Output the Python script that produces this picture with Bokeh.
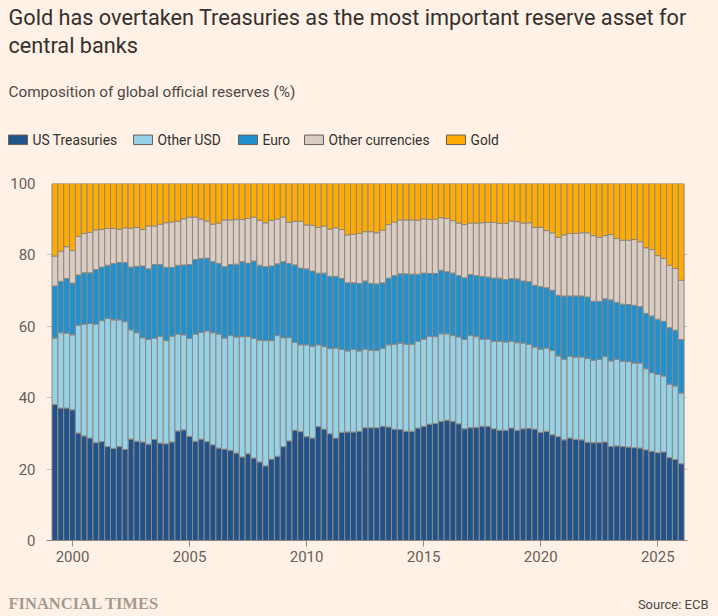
from bokeh.plotting import figure
from bokeh.models import ColumnDataSource, Label, Range1d
from bokeh.layouts import column
from bokeh.embed import file_html
from bokeh.resources import INLINE

# quarterly ECB data, 1999Q1 .. 2025Q4
years = list(range(1999, 2026))
quarters = [f"{y}Q{q}" for y in years for q in range(1, 5)]

series = ["US Treasuries", "Other USD", "Euro", "Other currencies", "Gold"]

treasuries = [
    38.1, 37.1, 37.1, 36.6, 30.1, 29.3, 28.7, 27.4, 27.7, 26.3, 25.8, 26.3,
    25.5, 28.4, 27.8, 27.6, 27.0, 28.3, 27.3, 27.1, 27.6, 30.7, 31.0, 29.2,
    27.8, 28.4, 27.7, 26.8, 25.9, 25.6, 25.3, 24.5, 23.4, 24.3, 23.1, 22.0,
    20.9, 22.8, 23.6, 26.3, 27.9, 30.9, 30.5, 29.1, 28.7, 31.9, 31.2, 29.9,
    28.7, 30.3, 30.4, 30.4, 30.6, 31.6, 31.6, 31.6, 32.0, 31.8, 31.2, 31.1,
    30.6, 30.6, 31.5, 32.0, 32.6, 32.8, 33.4, 33.7, 33.4, 32.7, 31.3, 31.6,
    31.7, 32.0, 32.0, 31.3, 30.9, 30.9, 31.5, 30.9, 31.3, 31.4, 31.2, 30.3,
    30.6, 29.6, 29.1, 28.2, 28.7, 28.3, 28.2, 27.5, 27.4, 27.4, 27.6, 26.4,
    26.5, 26.3, 26.2, 26.0, 25.9, 25.4, 25.0, 24.6, 24.8, 23.2, 22.7, 21.5,
]
other_usd = [
    18.6, 21.1, 21.0, 21.0, 30.2, 31.3, 32.1, 33.2, 33.9, 35.9, 36.0, 35.5,
    35.8, 30.6, 30.4, 29.2, 29.3, 28.4, 29.9, 28.9, 29.6, 27.1, 26.6, 27.4,
    30.0, 29.9, 31.0, 31.4, 31.9, 31.1, 32.1, 32.5, 33.7, 32.8, 33.5, 34.1,
    35.1, 33.2, 33.8, 30.5, 28.9, 24.6, 24.3, 25.7, 25.7, 22.9, 23.1, 23.9,
    25.2, 23.2, 22.7, 23.1, 22.5, 22.0, 21.7, 21.6, 21.8, 23.0, 23.8, 24.2,
    24.4, 24.4, 24.3, 24.4, 24.6, 24.3, 24.5, 24.2, 24.0, 24.3, 25.0, 25.8,
    25.4, 24.4, 24.4, 24.5, 24.9, 24.7, 24.3, 24.5, 24.0, 23.5, 23.0, 23.3,
    23.3, 23.6, 22.6, 22.6, 22.9, 23.1, 23.2, 23.5, 23.1, 23.3, 23.9, 23.9,
    24.3, 23.9, 23.9, 23.7, 23.8, 22.7, 22.0, 21.9, 21.3, 20.6, 20.6, 19.8,
]
euro = [
    14.6, 14.4, 15.3, 14.5, 14.1, 14.4, 14.2, 15.3, 15.0, 14.9, 15.8, 16.1,
    16.6, 17.6, 18.6, 20.1, 19.8, 20.6, 20.1, 20.5, 19.3, 19.3, 19.6, 20.7,
    20.9, 20.7, 20.4, 19.9, 19.8, 20.0, 19.9, 20.4, 21.0, 20.6, 21.7, 21.0,
    20.7, 20.9, 20.1, 21.3, 20.8, 21.7, 21.5, 21.3, 21.1, 20.1, 20.6, 20.2,
    20.1, 19.9, 19.1, 18.7, 18.9, 19.1, 18.7, 18.7, 18.4, 18.7, 19.2, 19.4,
    19.7, 19.6, 18.8, 18.5, 17.6, 17.7, 17.8, 17.4, 17.5, 17.2, 17.3, 17.1,
    17.1, 17.6, 17.4, 17.7, 17.7, 17.5, 17.6, 17.9, 17.4, 17.6, 17.3, 17.5,
    16.9, 16.9, 17.0, 17.7, 16.9, 17.1, 17.1, 17.2, 16.5, 16.3, 16.2, 17.1,
    15.9, 16.0, 16.0, 16.2, 15.8, 15.5, 15.9, 15.5, 15.3, 15.8, 15.6, 15.0,
]
other_ccy = [
    8.4, 8.4, 8.9, 9.1, 10.8, 11.0, 11.3, 11.1, 10.5, 10.3, 9.8, 9.3,
    9.7, 10.9, 10.9, 10.2, 12.0, 10.8, 11.3, 12.5, 12.7, 12.3, 12.9, 13.3,
    11.9, 11.0, 10.4, 10.5, 11.3, 13.1, 12.5, 12.5, 11.8, 12.5, 12.3, 12.6,
    12.3, 12.8, 12.5, 12.5, 11.5, 12.2, 13.1, 12.3, 12.8, 12.8, 13.2, 13.2,
    13.6, 13.7, 13.4, 13.6, 14.0, 13.8, 14.5, 14.3, 14.7, 15.0, 15.0, 15.1,
    15.1, 15.2, 15.1, 15.2, 15.1, 15.2, 14.7, 14.9, 14.7, 14.7, 14.9, 14.4,
    14.7, 15.0, 15.3, 15.6, 15.3, 15.7, 16.1, 16.0, 16.2, 16.5, 16.2, 16.6,
    16.0, 16.1, 16.2, 17.1, 17.5, 17.5, 17.7, 18.0, 18.4, 17.9, 17.7, 18.3,
    17.9, 17.9, 18.0, 18.4, 18.2, 18.4, 18.6, 17.8, 17.6, 17.5, 17.3, 16.6,
]
gold = [
    20.3, 19.0, 17.7, 18.8, 14.8, 14.0, 13.7, 13.0, 12.9, 12.6, 12.6, 12.8,
    12.4, 12.5, 12.3, 12.9, 11.9, 11.9, 11.4, 11.0, 10.8, 10.6, 9.9, 9.4,
    9.4, 10.0, 10.5, 11.4, 11.1, 10.2, 10.2, 10.1, 10.1, 9.8, 9.4, 10.3,
    11.0, 10.3, 10.0, 9.4, 10.9, 10.6, 10.6, 11.6, 11.7, 12.3, 11.9, 12.8,
    12.4, 12.9, 14.4, 14.2, 14.0, 13.5, 13.5, 13.8, 13.1, 11.5, 10.8, 10.2,
    10.2, 10.2, 10.3, 9.9, 10.1, 10.0, 9.6, 9.8, 10.4, 11.1, 11.5, 11.1,
    11.1, 11.0, 10.9, 10.9, 11.2, 11.2, 10.5, 10.7, 11.1, 11.0, 12.3, 12.3,
    13.2, 13.8, 15.1, 14.4, 14.0, 14.0, 13.8, 13.8, 14.6, 15.1, 14.6, 14.3,
    15.4, 15.9, 15.9, 15.7, 16.3, 18.0, 18.5, 20.2, 21.0, 22.9, 23.8, 27.1,
]

x_ticks = [2000, 2005, 2010, 2015, 2020, 2025]
y_ticks = [0, 20, 40, 60, 80, 100]

colors = ["#21528a", "#96d1e5", "#2190cc", "#d8ccc3", "#ffab00"]
BG = "#fff1e5"
FONT = "Roboto"
INK = "#33302e"
W = 718


def text_panel(height, top):
    # a plain drawing area whose data units are page pixels (y grows downward)
    f = figure(width=W, height=height, x_range=Range1d(0, W),
               y_range=Range1d(top + height, top),
               x_axis_type=None, y_axis_type=None,
               output_backend="svg", toolbar_location=None, title=None,
               min_border=0, outline_line_color=None,
               background_fill_color=BG, border_fill_color=BG)
    f.grid.visible = False
    if "frame_align" in f.properties():
        f.frame_align = False
    return f


def add_text(fig, txt, x, y, size, color, font=FONT, align="left", style="normal"):
    fig.add_layout(Label(
        x=x, y=y, text=txt, text_font=font, text_font_size=size,
        text_color=color, text_align=align, text_baseline="middle",
        text_font_style=style,
    ))


# ---- header: title, subtitle, legend
head = text_panel(170, 0)
add_text(head, "Gold has overtaken Treasuries as the most important reserve asset for",
         8, 16.5, "21.7px", INK)
add_text(head, "central banks", 8, 45, "21.7px", INK)
add_text(head, "Composition of global official reserves (%)", 8, 91.5, "15.3px", "#4d4845")

key_x = [8, 133, 238, 304, 446]
head.rect(x=[k + 9.5 for k in key_x], y=139.3, width=19, height=9.5,
          fill_color=colors, line_color="#66605c", line_width=1)
for k, name in zip(key_x, series):
    add_text(head, name, k + 24, 139.5, "13.8px", INK)

# ---- main chart
xpos = [int(q[:4]) + int(q[-1]) / 4 for q in quarters]  # quarter-end dates

source = ColumnDataSource(dict(
    x=xpos, quarter=quarters,
    t=treasuries, u=other_usd, e=euro, o=other_ccy, g=gold,
))

p = figure(
    width=W, height=410,
    x_range=(1998.89, 2026.27), y_range=(0, 100),
    output_backend="svg", toolbar_location=None, title=None,
    min_border_left=46, min_border_right=31,
    min_border_top=13, min_border_bottom=40,
    background_fill_color=BG, border_fill_color=BG,
    outline_line_color=None,
)
if "frame_align" in p.properties():
    p.frame_align = False

p.vbar_stack(
    ["t", "u", "e", "o", "g"], x="x", width=0.25, source=source,
    color=colors, line_color="#8e8882", line_width=1,
)

p.xgrid.visible = False
p.ygrid.ticker = y_ticks
p.ygrid.grid_line_color = "#cdc3ba"

p.yaxis.ticker = y_ticks
p.yaxis.axis_line_color = None
p.yaxis.major_tick_line_color = None
p.yaxis.major_tick_out = 0
p.yaxis.major_tick_in = 0
p.yaxis.minor_tick_line_color = None
p.yaxis.major_label_standoff = 11

p.xaxis.ticker = x_ticks
p.xaxis.axis_line_color = "#8e8882"
p.xaxis.major_tick_line_color = "#8e8882"
p.xaxis.major_tick_out = 6
p.xaxis.major_tick_in = 0
p.xaxis.minor_tick_line_color = None
p.xaxis.major_label_standoff = 4

for ax in (p.xaxis, p.yaxis):
    ax.major_label_text_font = FONT
    ax.major_label_text_font_size = "15px"
    ax.major_label_text_color = "#66605c"

# ---- footer
foot = text_panel(36, 580)
add_text(foot, "FINANCIAL TIMES", 8, 603, "16.5px", "#a39a92",
         font="Liberation Serif", style="bold")
add_text(foot, "Source: ECB", 708, 603.8, "13px", "#4d4845", align="right")

page_template = """{% block postamble %}<style>html, body { background-color: #fff1e5; }</style>{% endblock %}
"""

layout = column(head, p, foot, spacing=0)
open("out.html", "w").write(file_html(layout, INLINE, template=page_template))
